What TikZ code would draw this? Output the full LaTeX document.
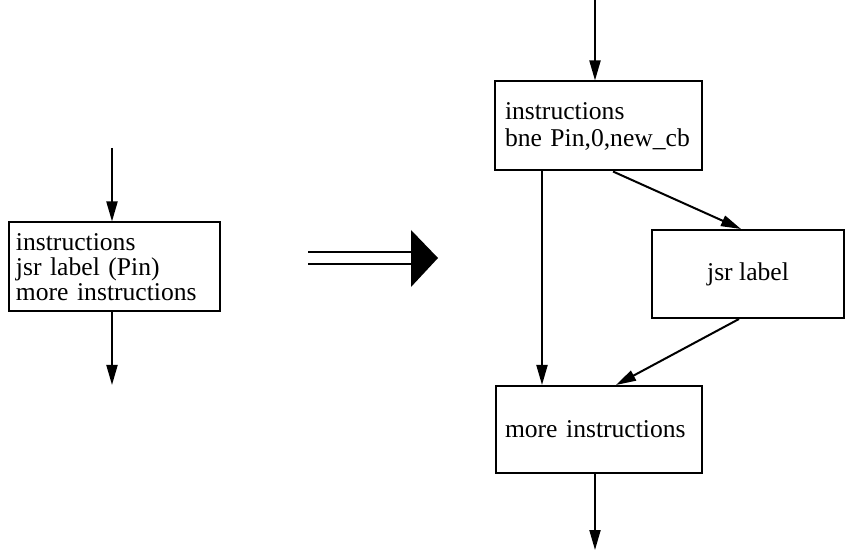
\documentclass[tikz,border=0pt]{standalone}
\usepackage{fontspec}
\setmainfont{Liberation Serif}
\usepackage{tikz}
\usetikzlibrary{calc,arrows.meta,positioning}

\tikzset{
	codebox/.style={draw, rectangle, line width=1pt, inner ysep=0pt, font=\fontsize{12.8}{12.4}\selectfont},
	flow/.style={-{Triangle[length=10pt,width=5.5pt]}, line width=1pt}
}

\begin{document}
\begin{tikzpicture}[x=0.5pt, y=-0.5pt]
					\useasboundingbox (0, 0) rectangle (846, 550);
					% before
					\node[codebox, minimum width=102.5pt, minimum height=44.5pt, text width=98.5pt, align=left] (call) at (114.5, 267) {instructions\\jsr label (Pin)\\more instructions};
					\coordinate (callin) at (112, 148);
					\coordinate (callout) at (112, 385);
					\draw [flow] (callin) -- (callin |- call.north);
					\draw [flow] (callin |- call.south) -- (callout);

					% transformation
					\coordinate (tail) at (308, 258);
					\coordinate (head) at (411, 258);
					\draw [line width=0.9pt, double, double distance=5pt] (tail) -- (head);
					\fill ($(head) + (0, -28)$) -- ($(head) + (27, 0)$) -- ($(head) + (0, 29)$) -- cycle;

					% after
					\node[codebox, minimum width=103.5pt, minimum height=44.5pt, text width=93.5pt, align=left, font=\fontsize{12.8}{13.5}\selectfont] (test) at (598.5, 126) {instructions\\bne Pin,0,new\_cb};
					\node[codebox, minimum width=96pt, minimum height=44pt, align=center] (jsr) at (748, 274) {jsr label};
					\node[codebox, minimum width=103pt, minimum height=43.5pt, text width=94pt, align=left] (rest) at (599, 429.5) {more instructions};
					\coordinate (testin) at (595, 0);
					\coordinate (restout) at (595, 550);
            		\draw [flow] (testin) -- (testin |- test.north);
            		\draw [flow] ([xshift=24pt]test.south west) -- ([xshift=23.5pt]rest.north west);
            		\draw [flow] ([xshift=59.5pt]test.south west) -- ([xshift=45pt]jsr.north west);
            		\draw [flow] ([xshift=44pt]jsr.south west) -- ([xshift=60.5pt]rest.north west);
            		\draw [flow] (restout |- rest.south) -- (restout);

				\end{tikzpicture}
\end{document}
